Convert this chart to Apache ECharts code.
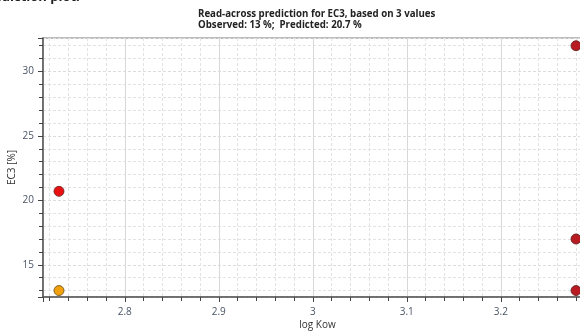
<!DOCTYPE html>
<html>
<head>
<meta charset="utf-8">
<script src="https://cdn.jsdelivr.net/npm/echarts@6/dist/echarts.min.js"></script>
<style>html,body{margin:0;padding:0;background:#fff}#c{width:580px;height:332px}</style>
</head>
<body>
<div id="c"></div>
<script>
// --- data ---
const panelTitle = 'Prediction plot:';
const titleLines = ['Read-across prediction for EC3, based on 3 values', 'Observed: 13 %;  Predicted: 20.7 %'];
const xAxisName = 'log Kow';
const yAxisName = 'EC3 [%]';
const targetLogKow = [2.73];
const targetPredicted = [20.7];
const targetObserved = [13];
const sourceLogKow = [3.28, 3.28, 3.28];
const sourceEC3 = [32, 17, 13];
const xRange = [2.713, 3.297];
const yRange = [12.5, 32.6];

const pairs = (xs, ys) => xs.map((x, i) => [x, ys[i]]);
const tickFont = {fontFamily: 'Open Sans', fontSize: 10, color: '#4a5566'};

const chart = echarts.init(document.getElementById('c'), null, {renderer: 'canvas'});
chart.setOption({
  animation: false,
  backgroundColor: '#ffffff',
  graphic: [
    {type: 'text', left: -20, top: -9, style: {text: panelTitle, font: 'bold 13px "Open Sans"', fill: '#222'}},
    {type: 'text', left: 198, top: 9, style: {text: titleLines.join('\n'), font: 'bold 9.7px "Open Sans"', fill: '#222', lineHeight: 11}}
  ],
  grid: {left: 43, top: 38, width: 549, height: 259, outerBoundsMode: 'none', containLabel: false,
         show: true, borderColor: '#a8a8a8', borderWidth: 1.5},
  xAxis: {
    type: 'value', min: xRange[0], max: xRange[1], splitNumber: 6,
    name: xAxisName, nameLocation: 'middle', nameGap: 23, nameMoveOverlap: false,
    nameTextStyle: {fontFamily: 'Open Sans', fontSize: 10, color: '#333'},
    axisLine: {lineStyle: {color: '#555', width: 1.5}},
    axisTick: {show: true, inside: false, length: 5, lineStyle: {color: '#444'}},
    minorTick: {show: true, splitNumber: 5, length: 4, lineStyle: {color: '#444'}},
    axisLabel: Object.assign({margin: 10, showMinLabel: false, showMaxLabel: false}, tickFont),
    splitLine: {show: true, lineStyle: {color: '#d8d8d8', width: 1}},
    minorSplitLine: {show: true, lineStyle: {color: '#e2e2e2', type: [3, 2]}}
  },
  yAxis: {
    type: 'value', min: yRange[0], max: yRange[1], splitNumber: 4,
    name: yAxisName, nameLocation: 'middle', nameGap: 26, nameMoveOverlap: false,
    nameTextStyle: {fontFamily: 'Open Sans', fontSize: 10, color: '#333'},
    axisLine: {show: true, lineStyle: {color: '#555', width: 1.5}},
    axisTick: {show: true, inside: false, length: 5, lineStyle: {color: '#444'}},
    minorTick: {show: true, splitNumber: 5, length: 4, lineStyle: {color: '#444'}},
    axisLabel: Object.assign({margin: 9, showMinLabel: false, showMaxLabel: false}, tickFont),
    splitLine: {show: true, lineStyle: {color: '#dcdcdc', type: [3, 2]}},
    minorSplitLine: {show: true, lineStyle: {color: '#e2e2e2', type: [3, 2]}}
  },
  series: [
    {name: 'Predicted', type: 'scatter', data: pairs(targetLogKow, targetPredicted), symbolSize: 10,
     itemStyle: {color: '#e81010', borderColor: '#6a2020', borderWidth: 0.8, opacity: 1}},
    {name: 'Observed', type: 'scatter', data: pairs(targetLogKow, targetObserved), symbolSize: 10,
     itemStyle: {color: '#f2a00c', borderColor: '#6a4a10', borderWidth: 0.8, opacity: 1}},
    {name: 'Source chemicals', type: 'scatter', data: pairs(sourceLogKow, sourceEC3), symbolSize: 10,
     itemStyle: {color: '#b81c22', borderColor: '#5a1a1a', borderWidth: 0.8, opacity: 1}}
  ]
});
</script>
</body>
</html>
